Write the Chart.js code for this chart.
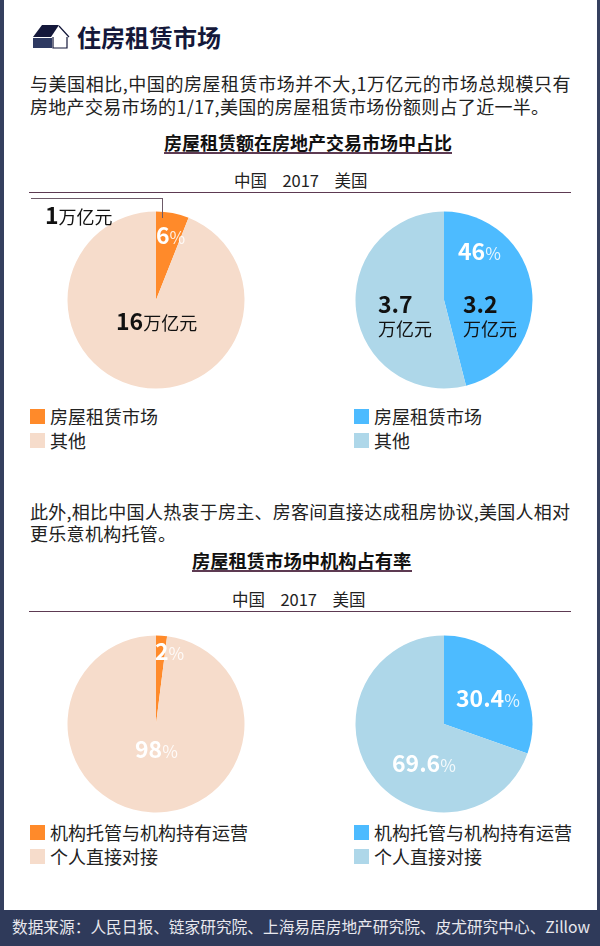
<!DOCTYPE html>
<html lang="zh"><head><meta charset="utf-8">
<script src="https://cdn.jsdelivr.net/npm/chart.js@4"></script>
<style>
html,body{margin:0;padding:0;background:#fff}
#page{position:relative;width:600px;height:946px;overflow:hidden;background:#fff;font-family:"Noto Sans CJK SC","Noto Sans",sans-serif;color:#222}
.t{position:absolute;white-space:nowrap;line-height:1}
.c{position:absolute;width:190px;height:190px}
.rule{position:absolute;left:29px;width:542px;height:1px;background:#5d3a52}
.sw{position:absolute;width:15px;height:15px}
.b{font-weight:700}
.w{color:#fff}
.w small{font-size:17px;font-weight:400;opacity:.85}
.k{color:#111}
</style></head><body>
<div id="page">
<div style="position:absolute;left:0;top:0;width:4px;height:946px;background:#35405f"></div>
<div style="position:absolute;right:0;top:0;width:3px;height:946px;background:#35405f"></div>
<svg style="position:absolute;left:31px;top:24px" width="40" height="26" viewBox="0 0 40 26">
<path d="M10 1H30L39 13H36V24H2V13Z" fill="#fff"/>
<path d="M11 1H28L20 13H2Z" fill="#14183a"/><path d="M2 14H21V24H2Z" fill="#2e3a62"/>
<path d="M28 2L38 13M22 13V24H36V13" fill="none" stroke="#14183a" stroke-width="1.2"/></svg>
<div class="t b" style="left:77px;top:25px;font-size:24px;color:#14183a">住房租赁市场</div>
<div class="t" style="left:30px;top:74px;font-size:18px;letter-spacing:.55px">与美国相比,中国的房屋租赁市场并不大,1万亿元的市场总规模只有</div>
<div class="t" style="left:30px;top:97px;font-size:18px;letter-spacing:.3px">房地产交易市场的1/17,美国的房屋租赁市场份额则占了近一半。</div>
<div class="t b" style="left:164px;top:133px;font-size:18px;color:#111">房屋租赁额在房地产交易市场中占比</div>
<div style="position:absolute;left:164px;top:152px;width:288px;height:2px;background:#5d3a52"></div>
<div class="t" style="left:234px;top:172px;font-size:16.5px;word-spacing:4px">中国&nbsp; 2017&nbsp; 美国</div>
<div class="rule" style="top:192px"></div>
<canvas class="c" id="c1" style="left:61px;top:205px"></canvas>
<canvas class="c" id="c2" style="left:349px;top:205px"></canvas>
<div style="position:absolute;left:31px;top:198px;width:131px;height:1px;background:#6d5a68"></div>
<div style="position:absolute;left:162px;top:198px;width:1px;height:20px;background:#6d5a68"></div>
<div class="t k" style="left:45px;top:203px;font-size:18px"><span class="b" style="font-size:23px">1</span>万亿元</div>
<div class="t b w" style="left:156px;top:223px;font-size:23px">6<small>%</small></div>
<div class="t k" style="left:116px;top:309px;font-size:18px"><span class="b" style="font-size:23px">16</span>万亿元</div>
<div class="t b w" style="left:458px;top:239px;font-size:23px">46<small>%</small></div>
<div class="t b k" style="left:378px;top:292px;font-size:23px">3.7</div>
<div class="t k" style="left:378px;top:319px;font-size:18px">万亿元</div>
<div class="t b k" style="left:463px;top:292px;font-size:23px">3.2</div>
<div class="t k" style="left:463px;top:319px;font-size:18px">万亿元</div>
<div class="sw" style="left:30px;top:409px;background:#ff8a2a"></div><div class="t" style="left:50px;top:407px;font-size:18px">房屋租赁市场</div>
<div class="sw" style="left:30px;top:433px;background:#f6dccb"></div><div class="t" style="left:50px;top:431px;font-size:18px">其他</div>
<div class="sw" style="left:354px;top:409px;background:#4dbbff"></div><div class="t" style="left:374px;top:407px;font-size:18px">房屋租赁市场</div>
<div class="sw" style="left:354px;top:433px;background:#aed7e9"></div><div class="t" style="left:374px;top:431px;font-size:18px">其他</div>
<div class="t" style="left:30px;top:502px;font-size:18px;letter-spacing:.27px">此外,相比中国人热衷于房主、房客间直接达成租房协议,美国人相对</div>
<div class="t" style="left:30px;top:524px;font-size:18px;letter-spacing:.3px">更乐意机构托管。</div>
<div class="t b" style="left:192px;top:551px;font-size:18.3px;color:#111">房屋租赁市场中机构占有率</div>
<div style="position:absolute;left:192px;top:570px;width:220px;height:2px;background:#5d3a52"></div>
<div class="t" style="left:232px;top:591px;font-size:16.5px;word-spacing:4px">中国&nbsp; 2017&nbsp; 美国</div>
<div class="rule" style="top:611px"></div>
<canvas class="c" id="c3" style="left:61px;top:629px"></canvas>
<canvas class="c" id="c4" style="left:349px;top:629px"></canvas>
<div class="t b w" style="left:155px;top:639px;font-size:23px">2<small>%</small></div>
<div class="t b w" style="left:135px;top:737px;font-size:23px">98<small>%</small></div>
<div class="t b w" style="left:456px;top:686px;font-size:23px">30.4<small>%</small></div>
<div class="t b w" style="left:392px;top:751px;font-size:23px">69.6<small>%</small></div>
<div class="sw" style="left:30px;top:825px;background:#ff8a2a"></div><div class="t" style="left:50px;top:823px;font-size:18px">机构托管与机构持有运营</div>
<div class="sw" style="left:30px;top:849px;background:#f6dccb"></div><div class="t" style="left:50px;top:847px;font-size:18px">个人直接对接</div>
<div class="sw" style="left:354px;top:825px;background:#4dbbff"></div><div class="t" style="left:374px;top:823px;font-size:18px">机构托管与机构持有运营</div>
<div class="sw" style="left:354px;top:849px;background:#aed7e9"></div><div class="t" style="left:374px;top:847px;font-size:18px">个人直接对接</div>
<div style="position:absolute;left:0;top:910px;width:600px;height:36px;background:#2f3a5a"></div>
<div class="t" style="left:12px;top:919px;font-size:15.7px;color:#e8e8ee">数据来源&#xFF1A;人民日报、链家研究院、上海易居房地产研究院、皮尤研究中心、Zillow</div>
</div>
<script>
const rentalShare = ['房屋租赁市场','其他'];
const agencyShare = ['机构托管与机构持有运营','个人直接对接'];
const chinaRent = [6,94];
const usRent = [46,54];
const chinaAgency = [2,98];
const usAgency = [30.4,69.6];
const chinaColors = ['#ff8a2a','#f6dccb'];
const usColors = ['#4dbbff','#aed7e9'];
function pie(id,labels,data,backgroundColor){
  new Chart(document.getElementById(id),{type:'pie',
    data:{labels,datasets:[{data,backgroundColor,borderWidth:0}]},
    options:{responsive:false,animation:false,events:[],layout:{padding:6.5},
      plugins:{legend:{display:false},tooltip:{enabled:false}}}});
}
pie('c1',rentalShare,chinaRent,chinaColors);
pie('c2',rentalShare,usRent,usColors);
pie('c3',agencyShare,chinaAgency,chinaColors);
pie('c4',agencyShare,usAgency,usColors);
</script>
</body></html>
